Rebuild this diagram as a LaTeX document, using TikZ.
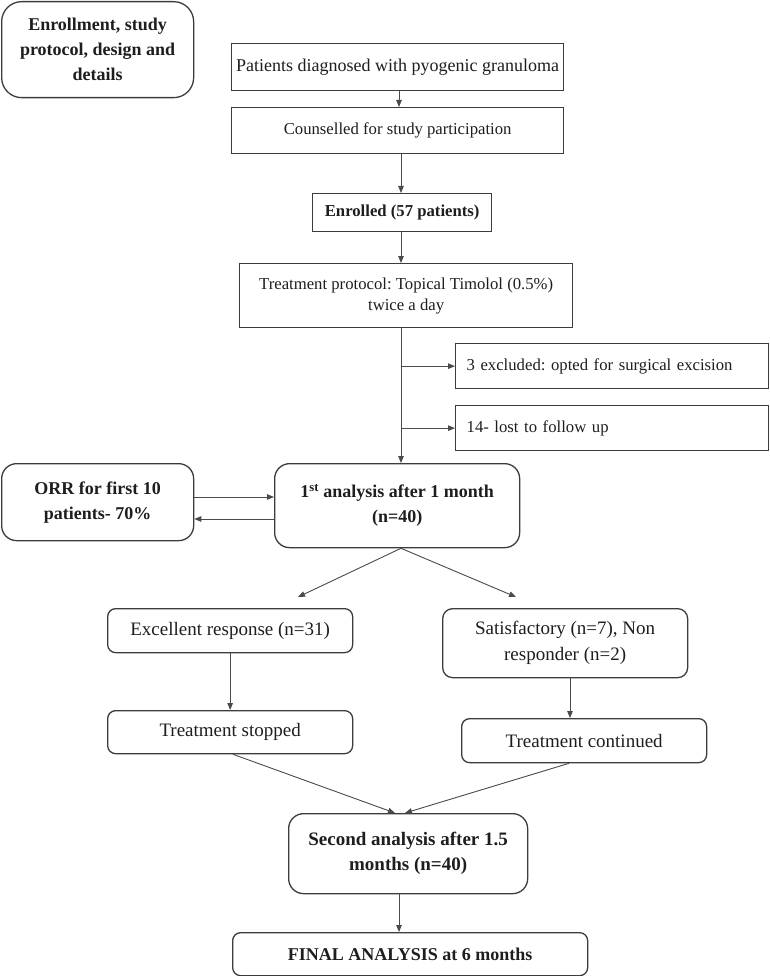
\documentclass[tikz,border=0pt]{standalone}
\usepackage{fontspec}
\setmainfont{Liberation Serif}
\usetikzlibrary{arrows.meta,calc}
\definecolor{lc}{HTML}{3C3C3C}
\definecolor{ac}{HTML}{4A4A4A}
\definecolor{tc}{HTML}{1E1E1E}
\frenchspacing
\begin{document}
\begin{tikzpicture}[x=1pt,y=-1pt,
  box/.style={draw=lc, line width=1.3pt, inner sep=0pt, anchor=north west, align=center, text=tc},
  reg/.style={font=\fontsize{16.7}{21}\selectfont},
  regl/.style={font=\fontsize{18}{22}\selectfont},
  big/.style={font=\fontsize{19}{26}\selectfont},
  bld/.style={font=\fontsize{18}{25}\selectfont\bfseries},
  bldl/.style={font=\fontsize{19}{25}\selectfont\bfseries},
  bldsm/.style={font=\fontsize{16.7}{21}\selectfont\bfseries},
  lbox/.style={box, align=left, inner xsep=11pt, text width=291pt},
  arr/.style={draw=ac, line width=0.9pt, -{Triangle[length=7pt,width=5.5pt]}}]
\useasboundingbox (0,0) rectangle (769,976);
\fill[white] (0,0) rectangle (769,976);

% boxes
\node[box, bld, rounded corners=20pt, minimum width=192pt, minimum height=96pt] (enr) at (1,1) {Enrollment, study\\protocol, design and\\details};
\node[box, regl, minimum width=332pt, minimum height=47pt] (pat) at (231,43) {Patients diagnosed with pyogenic granuloma};
\node[box, reg, minimum width=332pt, minimum height=46pt] (cou) at (231,107) {Counselled for study participation};
\node[box, bldsm, minimum width=179pt, minimum height=38pt] (enro) at (312,193) {Enrolled (57 patients)};
\node[box, reg, minimum width=333pt, minimum height=64pt] (trt) at (239,263) {Treatment protocol: Topical Timolol (0.5\%)\\twice a day};
\node[lbox, reg, minimum height=45pt] (exc) at (455,343) {3 excluded: opted for surgical excision};
\node[lbox, reg, minimum height=45pt] (lost) at (455,405) {14- lost to follow up};
\node[box, bld, rounded corners=15pt, minimum width=192pt, minimum height=77pt] (orr) at (1,463) {ORR for first 10\\patients- 70\%};
\node[box, bld, rounded corners=15pt, minimum width=245pt, minimum height=84pt] (a1) at (274,463) {1\textsuperscript{st} analysis after 1 month\\(n=40)};
\node[box, big, rounded corners=8pt, minimum width=245pt, minimum height=44pt] (exl) at (107,608) {Excellent response (n=31)};
\node[box, big, rounded corners=10pt, minimum width=245pt, minimum height=69pt] (sat) at (442,608) {Satisfactory (n=7), Non\\responder (n=2)};
\node[box, big, rounded corners=8pt, minimum width=245pt, minimum height=43pt] (stp) at (107,710) {Treatment stopped};
\node[box, big, rounded corners=8pt, minimum width=245pt, minimum height=44pt] (con) at (461,718) {Treatment continued};
\node[box, bldl, rounded corners=15pt, minimum width=239pt, minimum height=80pt] (sec) at (288,813) {Second analysis after 1.5\\months (n=40)};
\node[box, bld, rounded corners=8pt, minimum width=355pt, minimum height=43pt] (fin) at (232,932) {FINAL ANALYSIS at 6 months};

% helper coordinates
\coordinate (xa) at (399,0);
\coordinate (tr) at (401,0);
\coordinate (ya) at (0,497);
\coordinate (yb) at (0,519);
\coordinate (dl) at (298,597);
\coordinate (dr) at (516,597);
\coordinate (xs) at (570,0);
\coordinate (xl) at (395,0);
\coordinate (xr) at (405,0);
\coordinate (xc) at (569,0);
\coordinate (xt) at (233,0);

% connectors
\draw[arr] (pat.south -| xa) -- (cou.north -| xa);
\draw[arr] (cou.south -| tr) -- (enro.north -| tr);
\draw[arr] (enro.south -| tr) -- (trt.north -| tr);
\draw[arr] (trt.south -| tr) -- (a1.north -| tr);
\draw[arr] (exc.west -| tr) -- (exc.west);
\draw[arr] (lost.west -| tr) -- (lost.west);
\draw[arr] (orr.east |- ya) -- (a1.west |- ya);
\draw[arr] (a1.west |- yb) -- (orr.east |- yb);
\draw[arr] (a1.south -| tr) -- (dl);
\draw[arr] (a1.south -| tr) -- (dr);
\draw[arr] (exl.south) -- (stp.north);
\draw[arr] (sat.south -| xs) -- (con.north -| xs);
\draw[arr] (stp.south -| xt) -- (sec.north -| xl);
\draw[arr] (con.south -| xc) -- (sec.north -| xr);
\draw[arr] (sec.south -| xa) -- (fin.north -| xa);
\end{tikzpicture}
\end{document}
